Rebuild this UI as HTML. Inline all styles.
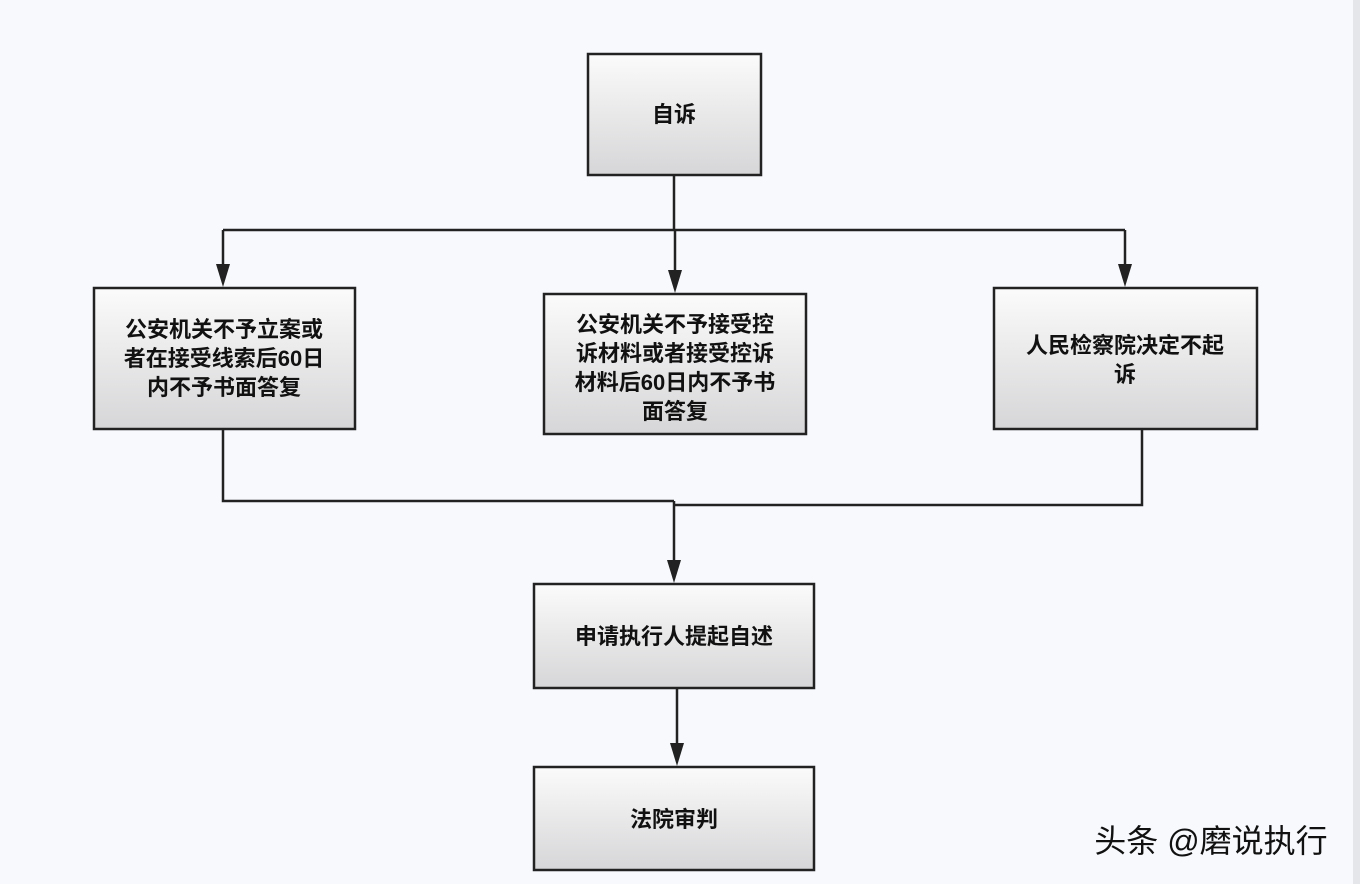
<!DOCTYPE html>
<html><head><meta charset="utf-8"><style>
html,body{margin:0;padding:0;background:#f7f9fc;}
svg{display:block}
text{font-family:"Liberation Sans","Noto Sans CJK SC",sans-serif;font-size:22px;fill:#111;text-anchor:middle;font-weight:bold;}
</style></head><body>
<svg width="1360" height="884" viewBox="0 0 1360 884">
<defs>
<linearGradient id="g" x1="0" y1="0" x2="0" y2="1">
<stop offset="0" stop-color="#fbfbfb"/><stop offset="1" stop-color="#d6d6d8"/>
</linearGradient>
</defs>
<rect x="0" y="0" width="1360" height="884" fill="#f7f9fc"/>
<rect x="1353" y="0" width="7" height="884" fill="#e4e6ea"/>
<g stroke="#222" stroke-width="2.5" fill="url(#g)">
<rect x="588" y="54" width="173" height="121"/>
<rect x="94" y="288" width="261" height="141"/>
<rect x="544" y="294" width="262" height="140"/>
<rect x="994" y="288" width="263" height="141"/>
<rect x="534" y="584" width="280" height="104"/>
<rect x="534" y="767" width="280" height="103"/>
</g>
<g stroke="#222" stroke-width="2.5" fill="none">
<path d="M674,175 V230"/>
<path d="M223,230 H1125"/>
<path d="M223,230 V275"/>
<path d="M675,230 V281"/>
<path d="M1125,230 V275"/>
<path d="M223,429 V501 H674"/>
<path d="M1142,429 V505 H674"/>
<path d="M674,501 V571"/>
<path d="M677,688 V754"/>
</g>
<g fill="#222">
<polygon points="216,264 230,264 223,287"/>
<polygon points="668,270 682,270 675,293"/>
<polygon points="1118,264 1132,264 1125,287"/>
<polygon points="667,560 681,560 674,583"/>
<polygon points="670,743 684,743 677,766"/>
</g>
<text x="674" y="122">自诉</text>
<text x="224" y="337">公安机关不予立案或</text>
<text x="224" y="366">者在接受线索后60日</text>
<text x="224" y="395">内不予书面答复</text>
<text x="675" y="332">公安机关不予接受控</text>
<text x="675" y="361">诉材料或者接受控诉</text>
<text x="675" y="390">材料后60日内不予书</text>
<text x="675" y="419">面答复</text>
<text x="1125" y="353">人民检察院决定不起</text>
<text x="1125" y="382">诉</text>
<text x="674" y="644">申请执行人提起自述</text>
<text x="674" y="827">法院审判</text>
<text x="1211" y="852" style="font-size:32px;font-weight:normal;fill:#111">头条 @磨说执行</text>
</svg>
</body></html>
